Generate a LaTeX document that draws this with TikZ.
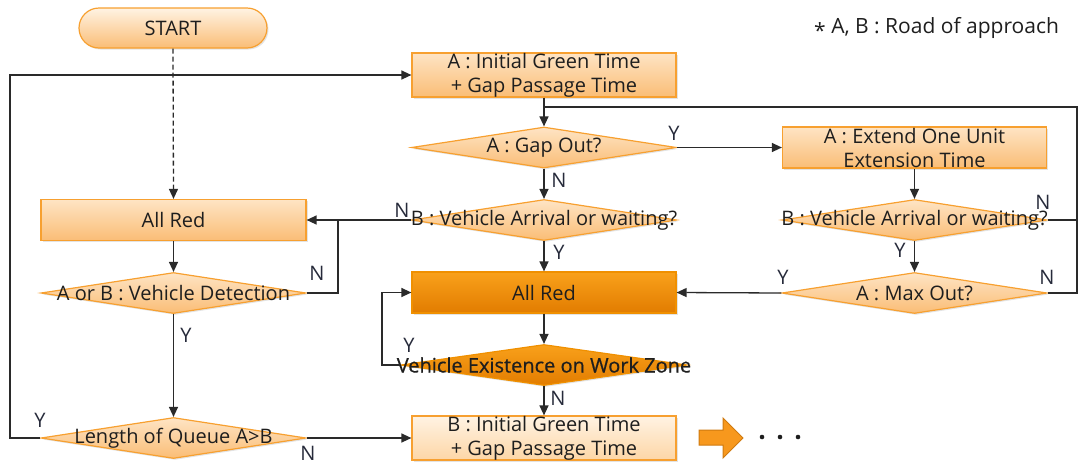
\documentclass[tikz,border=0pt]{standalone}
\usepackage{fontspec}
\setmainfont{Open Sans}
\usetikzlibrary{arrows.meta,shapes.geometric,shadows}
\definecolor{lnc}{HTML}{2A2A2A}
\definecolor{bordc}{HTML}{F7A030}
\definecolor{ltop}{HTML}{FEE4C4}
\definecolor{lbot}{HTML}{FABD76}
\definecolor{ptop}{HTML}{FFF3E3}
\definecolor{pbot}{HTML}{FDD6A6}
\definecolor{dtop}{HTML}{F9A11B}
\definecolor{dbot}{HTML}{E27C00}
\definecolor{dbord}{HTML}{F09000}
\definecolor{txtc}{HTML}{1E1E1E}
\definecolor{labc}{HTML}{262A3A}
\definecolor{blockc}{HTML}{F7981D}
\definecolor{blockb}{HTML}{CF7A10}
\begin{document}
\begin{tikzpicture}[x=1pt,y=-1pt,
  font=\fontsize{20}{24}\selectfont,
  base/.style={draw=bordc, line width=1.2pt, inner sep=0pt, text=txtc,
    drop shadow={opacity=0.22, shadow xshift=1.5pt, shadow yshift=-1.5pt}},
  lbox/.style={base, rectangle, top color=ltop, bottom color=lbot,
    minimum width=264pt, minimum height=41pt, align=center},
  pbox/.style={lbox, top color=ptop, bottom color=pbot},
  dkbox/.style={lbox, draw=dbord, top color=dtop, bottom color=dbot},
  dia/.style={base, diamond, top color=ltop, bottom color=lbot,
    minimum width=265pt, minimum height=41pt},
  dkdia/.style={dia, draw=dbord, top color=dtop, bottom color=dbot},
  pill/.style={base, rectangle, rounded corners=20pt, top color=ptop, bottom color=lbot,
    minimum width=188pt, minimum height=40pt},
  txt/.style={text=txtc, align=center, inner sep=0pt},
  lab/.style={text=labc, inner sep=0pt},
  conn/.style={draw=lnc, line width=1.3pt},
  arr/.style={conn, -{Triangle[length=10pt,width=9pt]}}
]
\useasboundingbox (0,0) rectangle (1079,464);

% --- boxes and decisions ---
\node[pill] (start) at (173,28) {START};
\node[lbox] (inita) at (544,75) {A : Initial Green Time\\+ Gap Passage Time};
\node[dia, label={[txt]center:A : Gap Out?}] (gap) at (544,147.5) {};
\node[lbox] (ext) at (914.5,147.5) {A : Extend One Unit\\Extension Time};
\node[dia, label={[txt]center:B : Vehicle Arrival or waiting?}] (bv) at (544,220) {};
\node[dia, label={[txt]center:B : Vehicle Arrival or waiting?}] (bv2) at (914.5,220) {};
\node[lbox, minimum width=265pt] (arl) at (173.5,220) {All Red};
\node[dkbox] (arm) at (544,292.5) {All Red};
\node[dia, label={[txt]center:A : Max Out?}] (mx) at (914.5,293) {};
\node[dia, label={[txt]center:A or B : Vehicle Detection}] (aob) at (173.5,293) {};
\node[dkdia, minimum width=286pt,
  label={[txt, font=\fontsize{20}{24}\selectfont\addfontfeature{FakeBold=0.6}]center:Vehicle Existence on Work Zone}] (vex) at (544,365) {};
\node[pbox] (binit) at (544,438) {B : Initial Green Time\\+ Gap Passage Time};
\node[dia, label={[txt]center:Length of Queue A>B}] (lq) at (173.5,438) {};

\node[txt, anchor=west, font=\fontsize{21}{24}\selectfont] (note) at (814,28) {\raisebox{-0.45ex}{*} A, B : Road of approach};

% --- bend points ---
\coordinate (rx) at (1077,107);
\coordinate (lx) at (10,75);
\coordinate (nx) at (338,220);
\coordinate (yx) at (382,365);

% --- connectors ---
\draw[conn, dash pattern=on 5pt off 3pt, -{Triangle[length=10pt,width=9pt]}] (start.south) -- (arl.north);
\draw[arr] (lq.west) -| (lx) -- (inita.west);
\draw[arr] (inita.south) -- (gap.north);
\draw[conn] (mx.east) -| (rx) -- (rx -| gap.north);
\draw[conn] (bv2.east) -- (bv2.east -| rx);
\draw[arr] (gap.east) -- (ext.west);
\draw[arr] (gap.south) -- (bv.north);
\draw[arr] (ext.south) -- (bv2.north);
\draw[arr] (bv2.south) -- (mx.north);
\draw[arr] (mx.west) -- (arm.east);
\draw[arr] (bv.west) -- (arl.east);
\draw[arr] (bv.south) -- (arm.north);
\draw[arr] (arl.south) -- (aob.north);
\draw[conn] (aob.east) -| (nx);
\draw[arr] (aob.south) -- (lq.north);
\draw[arr] (arm.south) -- (vex.north);
\draw[arr] (vex.west) -- (yx) |- (arm.west);
\draw[arr] (vex.south) -- (binit.north);
\draw[arr] (lq.east) -- (binit.west);

% --- branch labels ---
\node[lab] (l1) at (674,133) {Y};
\node[lab] (l2) at (559,180) {N};
\node[lab] (l3) at (402,210) {N};
\node[lab] (l4) at (559,252) {Y};
\node[lab] (l5) at (1043,202) {N};
\node[lab] (l6) at (900,250) {Y};
\node[lab] (l7) at (783,277) {Y};
\node[lab] (l8) at (1047,277) {N};
\node[lab] (l9) at (317,273) {N};
\node[lab] (l10) at (186,335) {Y};
\node[lab] (l11) at (409,345) {Y};
\node[lab] (l12) at (558,398) {N};
\node[lab] (l13) at (40,420) {Y};
\node[lab] (l14) at (308,453) {N};

% --- continuation arrow and dots ---
\filldraw[fill=blockc, draw=blockb, line width=1pt]
  (699,430) -- (723,430) -- (723,418) -- (743,438) -- (723,458) -- (723,445) -- (699,445) -- cycle;
\fill[txtc] (762,437) circle (2.3) (780,437) circle (2.3) (798,437) circle (2.3);
\end{tikzpicture}
\end{document}
